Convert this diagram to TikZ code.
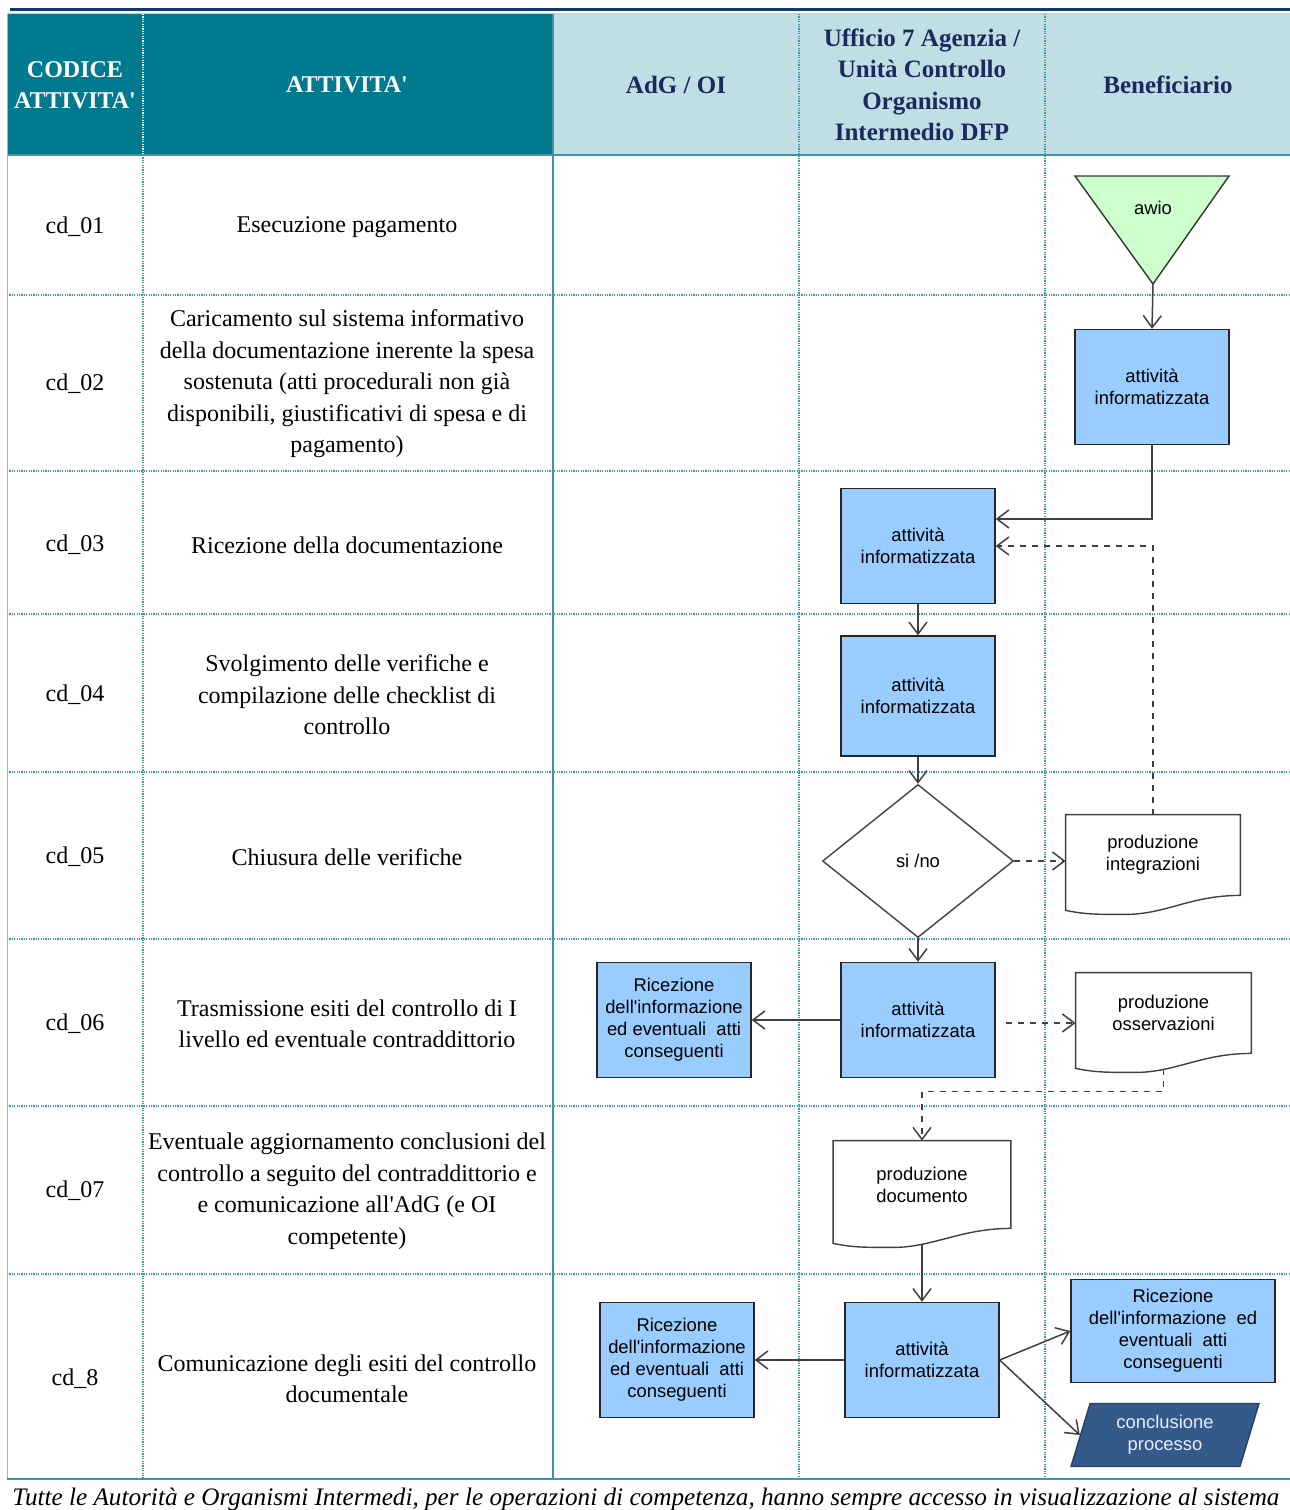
\documentclass[tikz,border=0pt]{standalone}
\usepackage{fontspec}
\setmainfont{Liberation Serif}
\newfontfamily\boxfont{Liberation Sans}
\usetikzlibrary{arrows.meta,shapes.geometric}
\pgfdeclarelayer{background}
\pgfsetlayers{background,main}

\definecolor{navyline}{RGB}{16,58,107}
\definecolor{headdark}{RGB}{0,122,143}
\definecolor{headlight}{RGB}{192,222,228}
\definecolor{headtext}{RGB}{27,42,94}
\definecolor{gridteal}{RGB}{60,150,170}
\definecolor{boxblue}{RGB}{153,204,255}
\definecolor{startgreen}{RGB}{204,255,204}
\definecolor{endblue}{RGB}{52,90,138}
\definecolor{linegray}{RGB}{64,64,64}

% document symbol with a wavy lower edge, drawn behind its node
\newcommand\docshape[1]{%
  \begin{pgfonlayer}{background}
  \filldraw[fill=white, draw=linegray, line width=0.7pt] (#1.south east) -- (#1.north east) -- (#1.north west)
    -- ([yshift=-7.5pt]#1.south west) .. controls +(20,4) and +(-30,0) .. ++(60,4)
    .. controls +(40,0) and +(-50,0) .. (#1.south east) -- cycle;
  \end{pgfonlayer}}

\tikzset{
  flow/.style={draw=linegray, line width=0.75pt, -{Straight Barb[length=6pt,width=9pt]}},
  flowdash/.style={flow, dashed},
  info/.style={draw=black!85, fill=boxblue, line width=0.7pt, font=\boxfont\fontsize{9.2}{11}\selectfont,
    align=center, inner sep=0pt, minimum width=77pt, minimum height=57.5pt},
  docnode/.style={font=\boxfont\fontsize{9.2}{11}\selectfont, align=center, inner sep=0pt,
    minimum width=87pt, minimum height=40pt},
  codetext/.style={font=\fontsize{12}{15.75}\selectfont},
  acttext/.style={font=\fontsize{12}{15.75}\selectfont, align=center},
  headw/.style={font=\bfseries\fontsize{12}{15.75}\selectfont, text=white, align=center},
  headn/.style={font=\bfseries\fontsize{12.5}{15.75}\selectfont, text=headtext, align=center},
  gridline/.style={gridteal, line width=0.6pt, dash pattern=on 0.6pt off 0.6pt},
}

\begin{document}
\begin{tikzpicture}[x=0.5pt, y=-0.5pt]
  \useasboundingbox (0,0) rectangle (1290,1510);

  % table
  \draw[navyline, line width=1.6pt] (10,9.5) -- (1290,9.5);
  \draw[gray!40, line width=0.4pt] (7,13.5) -- (1290,13.5);
  \fill[headdark] (7,14) rectangle (553,155);
  \fill[headlight] (553,14) rectangle (1290,155);
  \draw[white, line width=0.6pt, dash pattern=on 0.6pt off 0.6pt] (143,14) -- (143,155);
  \draw[gridline] (143,155) -- (143,1478) (799,14) -- (799,1478) (1045,14) -- (1045,1478);
  \draw[gridline] (7,295) -- (1290,295) (7,471) -- (1290,471) (7,614) -- (1290,614)
    (7,772) -- (1290,772) (7,939) -- (1290,939) (7,1106) -- (1290,1106) (7,1274) -- (1290,1274);
  \draw[gridteal, line width=0.8pt] (553,14) -- (553,1478);
  \draw[gridteal, line width=0.8pt] (7,155) -- (1290,155);
  \draw[gray!60, line width=0.4pt] (7,14) -- (7,1478);
  \draw[gridteal, line width=1.2pt] (7,1479) -- (1290,1479);

  % header
  \node[headw] (hcod) at (75,85) {CODICE\\ATTIVITA\textquotesingle};
  \node[headw] (hatt) at (347,85) {ATTIVITA\textquotesingle};
  \node[headn] (hadg) at (676,85) {AdG / OI};
  \node[headn] (huff) at (922,85) {Ufficio 7 Agenzia /\\Unità Controllo\\Organismo\\Intermedio DFP};
  \node[headn] (hben) at (1168,85) {Beneficiario};

  % codes
  \node[codetext] (c1) at (75,227) {cd\_01};
  \node[codetext] (c2) at (75,384) {cd\_02};
  \node[codetext] (c3) at (75,545) {cd\_03};
  \node[codetext] (c4) at (75,695) {cd\_04};
  \node[codetext] (c5) at (75,857) {cd\_05};
  \node[codetext] (c6) at (75,1024) {cd\_06};
  \node[codetext] (c7) at (75,1191) {cd\_07};
  \node[codetext] (c8) at (75,1379) {cd\_8};

  % activities
  \node[acttext] (a1) at (347,227) {Esecuzione pagamento};
  \node[acttext] (a2) at (347,384) {Caricamento sul sistema informativo\\della documentazione inerente la spesa\\sostenuta (atti procedurali non già\\disponibili, giustificativi di spesa e di\\pagamento)};
  \node[acttext] (a3) at (347,545) {Ricezione della documentazione};
  \node[acttext] (a4) at (347,695) {Svolgimento delle verifiche e\\compilazione delle checklist di\\controllo};
  \node[acttext] (a5) at (347,857) {Chiusura delle verifiche};
  \node[acttext] (a6) at (347,1024) {Trasmissione esiti del controllo di I\\livello ed eventuale contraddittorio};
  \node[acttext] (a7) at (347,1191) {Eventuale aggiornamento conclusioni del\\controllo a seguito del contraddittorio e\\e comunicazione all\textquotesingle AdG (e OI\\competente)};
  \node[acttext] (a8) at (347,1379) {Comunicazione degli esiti del controllo\\documentale};

  % flow
  \filldraw[fill=startgreen, draw=black!80, line width=0.7pt] (1075,176) -- (1229,176) -- (1153,284) -- cycle;
  \coordinate (apex) at (1153,284);
  \node[font=\boxfont\fontsize{9.2}{11}\selectfont] (avvio) at (1153,208) {awio};

  \node[info] (i1) at (1152,387) {attività\\informatizzata};
  \node[info] (i2) at (918,546) {attività\\informatizzata};
  \node[info, minimum height=60pt] (i3) at (918,696) {attività\\informatizzata};
  \node[diamond, draw=linegray, line width=0.7pt, inner sep=0pt, minimum width=95.5pt, minimum height=76.5pt,
    font=\boxfont\fontsize{9.2}{11}\selectfont] (dec) at (918,861) {si /no};
  \node[info] (i4) at (918,1020) {attività\\informatizzata};
  \node[info] (r1) at (674,1020) {Ricezione\\dell'informazione\\ed eventuali\ \ atti\\conseguenti};
  \node[info] (i5) at (922,1360) {attività\\informatizzata};
  \node[info] (r2) at (677,1360) {Ricezione\\dell'informazione\\ed eventuali\ \ atti\\conseguenti};
  \node[info, minimum width=102pt, minimum height=51.5pt] (r3) at (1173,1331) {Ricezione\\dell'informazione\ \ ed\\eventuali\ \ atti\\conseguenti};
  \node[trapezium, trapezium left angle=64, trapezium right angle=116, trapezium stretches body,
    fill=endblue, draw=endblue!70!black, line width=0.7pt, minimum width=94pt, minimum height=31.5pt, inner sep=0pt,
    text=white!92!blue, font=\boxfont\fontsize{9.2}{11}\selectfont, align=center] (fine) at (1165,1435) {conclusione\\processo};

  % documents
  \node[docnode] (docI) at (1153,855) {produzione\\integrazioni};
  \docshape{docI}
  \node[docnode, minimum width=87.5pt] (docO) at (1163.5,1013) {produzione\\osservazioni};
  \docshape{docO}
  \node[docnode, minimum width=88.5pt, minimum height=43.5pt] (docD) at (922,1184.5) {produzione\\documento};
  \docshape{docD}

  \draw[flow] (apex) -- (i1.north);
  \draw[flow] (i1.south) |- ([yshift=13.5pt]i2.east);
  \draw[flowdash] (docI.north) |- (i2.east);
  \draw[flow] (i2.south) -- (i3.north);
  \draw[flow] (i3.south) -- (dec.north);
  \draw[flowdash] (dec.east) -- (dec.east -| docI.west);
  \draw[flow] (dec.south) -- (i4.north);
  \draw[flow] (i4.west) -- (r1.east);
  \draw[flowdash, shorten <=5pt] ([yshift=-1.5pt]i4.east) -- ([yshift=-1.5pt]i4.east -| docO.west);
  \draw[flowdash] ([yshift=-8pt]docO.south) -- ++(0,22) -| (docD.north);
  \draw[flow] ([yshift=-8.5pt]docD.south) -- (i5.north);
  \draw[flow] (i5.west) -- (r2.east);
  \draw[flow] (i5.east) -- (r3.west);
  \draw[flow] (i5.east) -- (fine.west);

  % note under the table
  \node[anchor=west, inner sep=0pt, font=\itshape\fontsize{12.6}{14}\selectfont] (nota) at (12,1499)
    {Tutte le Autorità e Organismi Intermedi, per le operazioni di competenza, hanno sempre accesso in visualizzazione al sistema};
\end{tikzpicture}
\end{document}
